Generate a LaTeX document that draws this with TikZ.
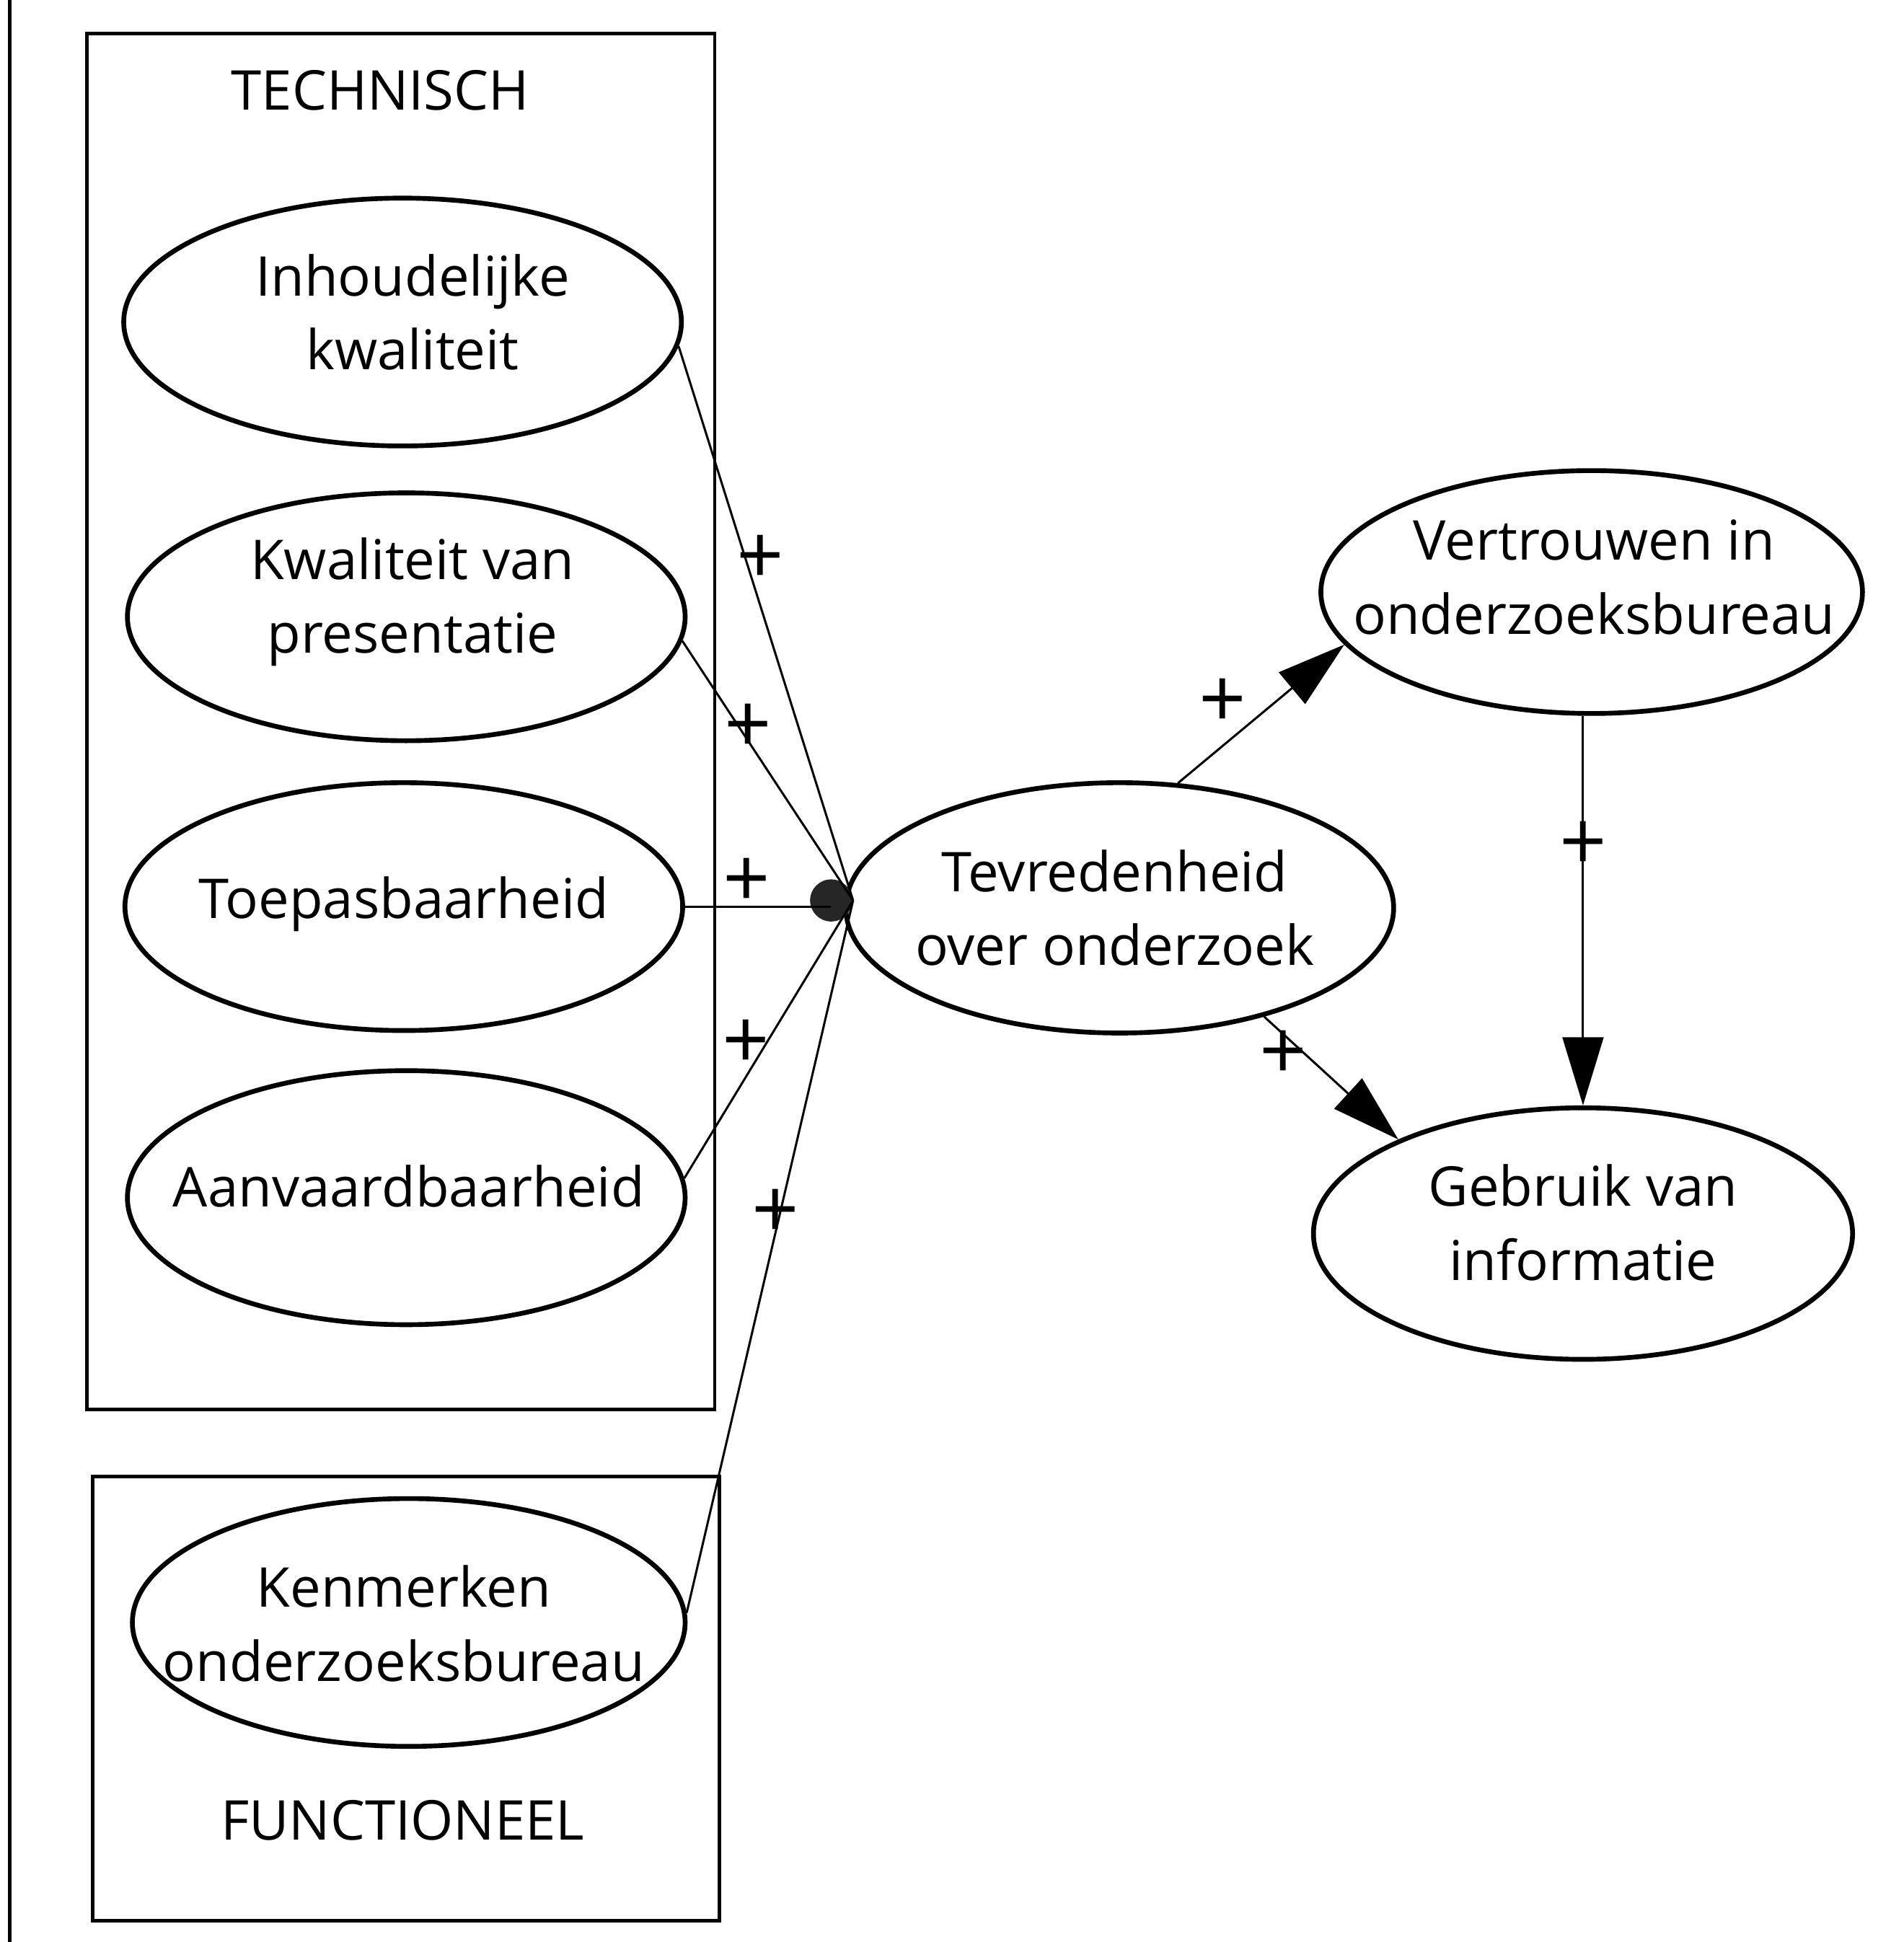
\documentclass[tikz,border=0pt]{standalone}
\usepackage{fontspec}
\setmainfont{Open Sans}
\usetikzlibrary{shapes.geometric,arrows.meta}
\begin{document}
\begin{tikzpicture}[x=0.01cm,y=-0.01cm,
  ell/.style={ellipse,draw,line width=1.1pt,minimum width=4.5cm,minimum height=2cm,inner sep=0pt},
  lbl/.style={align=center,font=\fontsize{12.6}{17}\selectfont,inner sep=0pt},
  plussign/.style={font=\fontsize{19}{19}\selectfont,inner sep=0pt},
  conn/.style={line width=0.5pt},
  arr/.style={conn,-{Triangle[length=0.55cm,width=0.33cm]}},
  framebox/.style={draw,line width=0.8pt}]
\useasboundingbox (0,0) rectangle (1537,1568);
% scan edge line
\draw[line width=0.8pt] (8,0) -- (8,1568);
% boxes
\draw[framebox] (70,27) rectangle (577,1138);
\draw[framebox] (75,1192) rectangle (581,1551);
\node[lbl] (tech) at (307,73) {TECHNISCH};
\node[lbl] (func) at (325,1470) {FUNCTIONEEL};
% ellipses
\node[ell] (inh) at (325,260) {};
\node[ell] (kwa) at (328,498) {};
\node[ell] (toe) at (326,732) {};
\node[ell,minimum height=2.05cm] (aan) at (328,967) {};
\node[ell,minimum width=4.46cm] (ken) at (330,1310) {};
\node[ell,minimum width=4.42cm,minimum height=2.02cm] (tev) at (904,733) {};
\node[ell,minimum width=4.37cm,minimum height=1.96cm] (vert) at (1285,478) {};
\node[ell,minimum width=4.35cm,minimum height=2.03cm] (geb) at (1278,996) {};
% texts
\node[lbl] (inh-t) at (333,252) {Inhoudelijke\\kwaliteit};
\node[lbl] (kwa-t) at (333,486) {Kwaliteit van\\presentatie};
\node[lbl] (toe-t) at (326,730) {Toepasbaarheid};
\node[lbl] (aan-t) at (330,958) {Aanvaardbaarheid};
\node[lbl] (ken-t) at (326,1311) {Kenmerken\\onderzoeksbureau};
\node[lbl] (tev-t) at (900,733) {Tevredenheid\\over onderzoek};
\node[lbl] (vert-t) at (1287,466) {Vertrouwen in\\onderzoeksbureau};
\node[lbl] (geb-t) at (1278,987) {Gebruik van\\informatie};
% hub dot
\node[circle,fill=black!85,minimum size=0.34cm,inner sep=0pt] (dot) at (671,727) {};
\draw[conn] (inh.-5) -- (dot.east);
\draw[conn] (kwa.-5) -- (dot.east);
\draw[conn] (toe.east) -- (toe.east -| dot.center);
\draw[conn] (aan.4) -- (dot.east);
\draw[conn] (ken.2) -- (dot.east);
% arrows
\draw[arr] (tev.65) -- (vert.192);
\draw[arr] (tev.-37) -- (geb.153);
\draw[arr] (geb.north |- vert.south) -- (geb.north);
% plus signs
\node[plussign] (p1) at (614,452) {+};
\node[plussign] (p2) at (604,588) {+};
\node[plussign] (p3) at (603,713) {+};
\node[plussign] (p4) at (602,843) {+};
\node[plussign] (p5) at (626,980) {+};
\node[plussign] (p6) at (987,568) {+};
\node[plussign] (p7) at (1278,683) {+};
\node[plussign] (p8) at (1036,852) {+};
\end{tikzpicture}
\end{document}
